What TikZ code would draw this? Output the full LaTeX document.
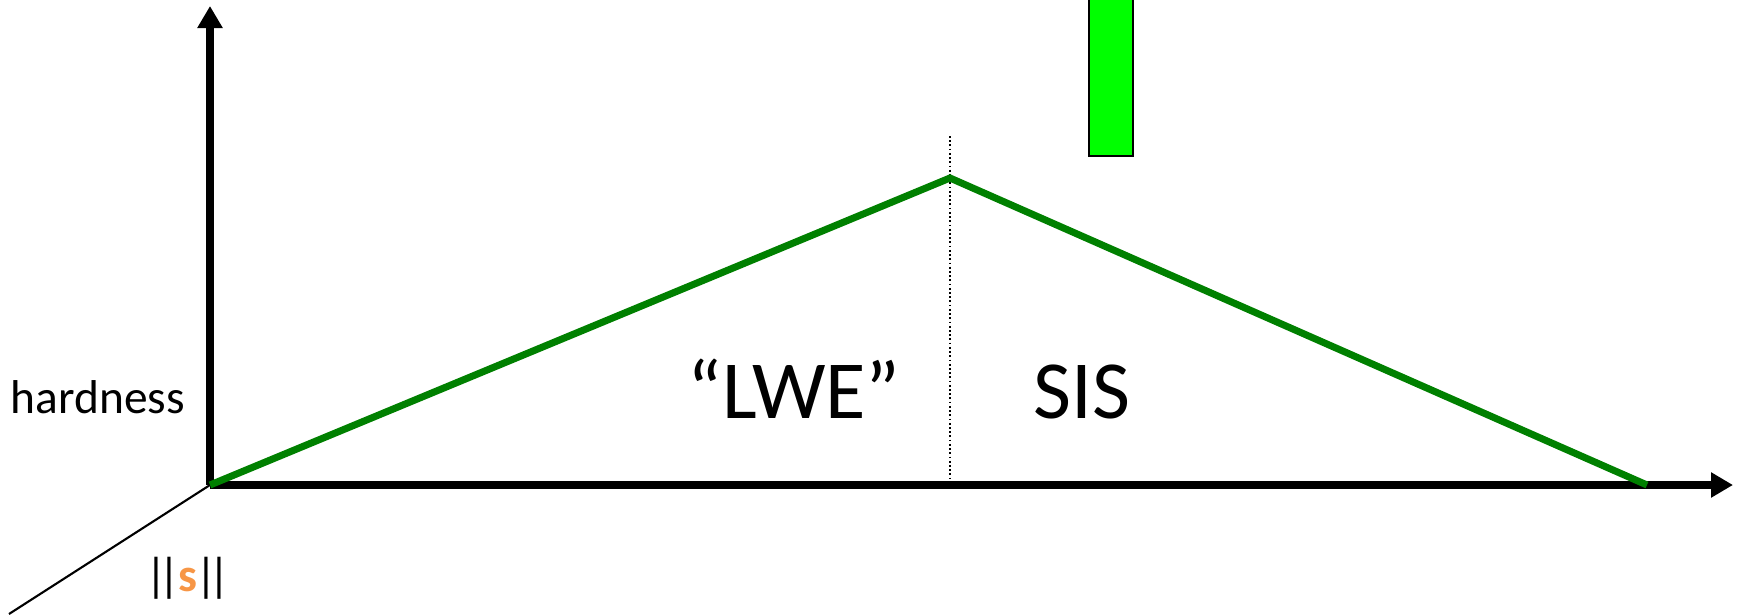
\documentclass[tikz,border=0pt]{standalone}
\usepackage{fontspec}
\setmainfont{Carlito}
\usepackage{tikz}
\usetikzlibrary{arrows.meta,calc,positioning}
\definecolor{curvegreen}{RGB}{0,128,0}
\definecolor{bargreen}{RGB}{0,255,0}
\definecolor{normorange}{RGB}{247,150,70}
\tikzset{
  axis/.style={black, line width=2pt,
               -{Triangle[length=2.2mm,width=2.4mm]}},
  depth/.style={black, line width=0.6pt},
  curve/.style={curvegreen, line width=2pt},
  divider/.style={black, line width=0.5pt,
                  dash pattern=on 0.5pt off 0.7pt},
  bar/.style={draw=black, line width=0.6pt, fill=bargreen,
              minimum width=4.4mm, minimum height=17mm,
              inner sep=0pt, anchor=south},
  axislab/.style={font=\fontsize{13.5}{16}\selectfont, inner sep=0pt},
  regionlab/.style={font=\fontsize{23.5}{28}\selectfont, inner sep=0pt},
}

\begin{document}
\begin{tikzpicture}[x=1cm,y=1cm]
  \path[use as bounding box] (0,0) rectangle (17.4,6.14);

  % Axes.
  \coordinate (O) at (2.10,1.29);
  \coordinate (ytip) at (2.10,6.08);
  \coordinate (xtip) at (17.33,1.29);
  \coordinate (ztip) at (0.09,0.0);
  \draw[axis] (O) -- (ytip);
  \draw[axis] (O) -- (xtip);
  \draw[depth] (O) -- (ztip);

  % Hardness curve and the split between the two problems.
  \coordinate (peak) at (9.50,4.36);
  \coordinate (tail) at (16.47,1.29);
  \coordinate (cut) at (9.50,4.78);
  \draw[divider] (cut) -- (cut |- O);
  \draw[curve] (O) -- (peak) -- (tail);

  \node[bar] (best) at (11.11,4.57) {};

  \node[axislab, anchor=base west] (hard) at (0.10,2.01) {hardness};
  \node[axislab, anchor=base] (norm) at (1.90,0.23)
    {\kern-1pt|\kern-2.5pt|\kern-0.5pt\textcolor{normorange}{\bfseries s}\kern-0.5pt|\kern-2.5pt|};
  \node[regionlab, anchor=base] (lwe) at (7.94,1.96) {“LWE”};
  \node[regionlab, anchor=base] (sis) at (10.82,1.96) {SIS};
\end{tikzpicture}
\end{document}
